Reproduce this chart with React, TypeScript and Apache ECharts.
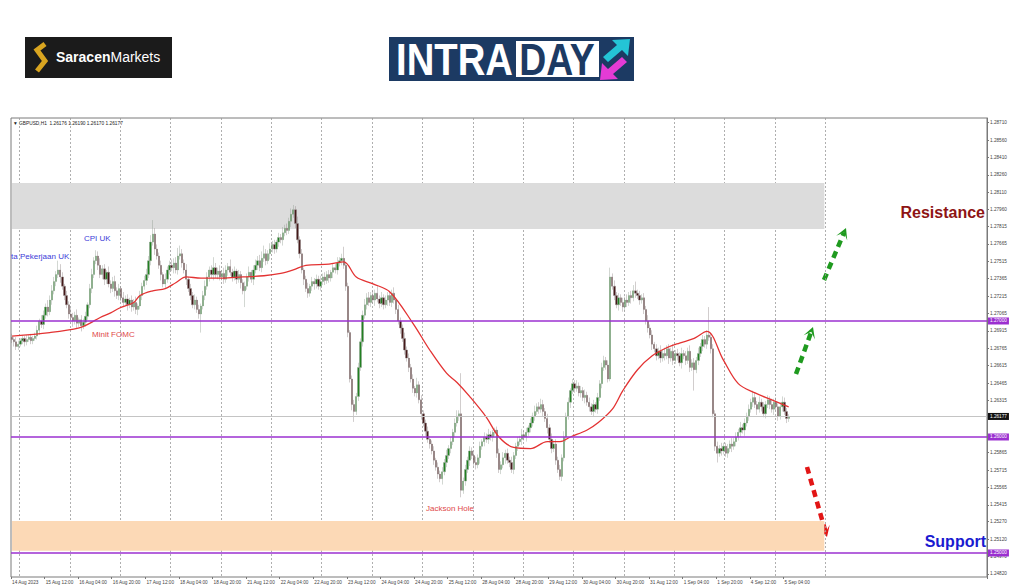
import React, { useEffect, useRef } from "react";
import * as echarts from "echarts";

// ---------- DATA (price in pips above 1.25000) ----------
const BASE = 1.25;
const PIP = 0.0001;
const FIRST_OPEN = 186;

const closes = [
  184,182,178,180,183,185,182,184,186,183,
  185,187,192,200,197,205,212,208,218,226,
  234,240,244,238,230,222,214,206,203,200,
  205,198,201,196,199,204,214,228,240,252,
  256,248,240,245,236,242,232,228,234,226,
  222,228,220,216,219,214,218,212,216,210,
  213,222,230,235,240,252,268,275,262,256,
  248,240,232,236,244,248,246,250,244,256,
  258,250,244,236,228,222,214,218,210,206,
  213,222,230,238,244,240,246,240,243,238,
  241,236,244,247,242,238,243,236,240,233,
  226,230,238,242,236,244,248,252,246,254,
  258,252,258,262,266,262,268,272,270,276,
  280,278,286,292,296,284,270,258,244,236,
  228,224,230,234,232,236,230,234,238,235,
  240,237,242,246,244,250,252,254,248,230,
  190,150,128,122,135,160,182,205,214,220,
  216,222,218,224,219,215,220,214,218,222,
  216,224,218,210,200,194,185,175,168,160,
  150,142,138,145,132,120,112,105,98,94,
  88,80,74,68,64,70,78,84,90,96,
  104,112,118,120,54,62,72,80,88,84,
  78,76,82,92,96,100,98,102,100,104,
  106,86,72,76,82,86,80,78,72,84,
  92,96,98,102,100,104,108,112,118,122,
  126,124,128,122,116,108,98,90,94,80,
  72,66,82,100,118,130,140,146,142,144,
  138,140,134,136,130,126,122,128,124,134,
  146,160,166,162,150,238,230,222,214,220,
  216,212,218,216,222,220,226,224,222,218,
  220,210,200,194,188,180,176,170,174,168,
  172,170,176,168,174,166,172,170,164,172,
  170,166,174,160,164,158,166,172,178,184,
  180,188,186,176,120,92,86,90,88,92,
  86,90,94,92,96,100,104,108,106,112,
  118,124,130,134,128,124,130,126,120,128,
  132,128,124,130,126,118,126,130,122,116,
  117.7,
];

const upperWicks = [
  3,2,4,3,2,3,2,4,2,3,
  2,3,4,2,5,4,3,6,4,5,
  4,3,8,5,4,2,4,3,5,4,
  3,5,2,4,3,4,2,4,5,3,
  5,4,6,3,4,2,5,3,4,5,
  3,4,2,5,3,4,2,4,3,5,
  2,4,3,4,5,4,6,12,5,4,
  3,4,2,5,3,4,5,4,5,7,
  7,4,3,5,2,4,3,5,3,4,
  2,4,5,4,3,4,9,4,3,5,
  3,5,4,3,6,3,4,2,4,3,
  3,4,3,5,2,4,5,4,5,6,
  7,4,3,5,3,4,2,4,3,5,
  3,4,3,5,4,3,6,3,4,2,
  3,5,2,4,3,4,3,5,3,4,
  3,4,2,4,3,5,3,4,10,3,
  3,2,3,4,3,4,3,4,5,4,
  5,3,4,3,6,3,5,3,4,3,
  4,3,5,2,4,3,3,5,3,4,
  3,4,2,6,3,4,3,3,4,3,
  3,4,2,4,3,4,3,5,3,4,
  3,4,5,3,35,3,4,3,4,3,
  3,5,3,4,2,4,3,5,3,2,
  2,3,4,3,5,3,4,3,5,3,
  3,4,3,5,3,4,2,4,3,5,
  3,4,5,4,3,4,3,5,3,4,
  3,4,3,5,3,4,2,4,3,5,
  3,4,3,5,3,4,3,4,2,4,
  3,4,4,3,4,8,3,5,3,4,
  3,4,3,5,3,4,5,8,3,4,
  3,4,3,5,3,4,2,4,3,5,
  3,5,3,4,3,6,3,4,3,5,
  3,4,3,5,3,4,3,5,3,4,
  3,4,24,3,4,3,4,3,5,3,
  3,4,3,5,3,4,3,5,3,4,
  3,4,3,6,4,3,5,3,4,3,
  4,3,5,3,4,3,4,5,4,3,
  2,
];

const lowerWicks = [
  3,4,3,3,2,3,4,3,2,3,
  3,2,3,4,3,4,3,4,3,4,
  3,4,3,5,3,4,3,4,3,5,
  3,4,3,5,3,4,3,3,4,3,
  3,4,3,4,5,4,3,4,3,5,
  3,4,3,4,3,5,3,4,3,4,
  5,3,4,3,4,3,4,3,5,3,
  3,5,3,4,3,4,3,5,3,4,
  3,4,3,5,3,4,3,4,3,4,
  16,3,4,3,4,3,5,3,4,3,
  3,4,3,5,3,4,3,4,3,5,
  3,14,3,4,3,5,3,4,3,4,
  3,4,3,5,3,4,3,4,3,5,
  3,4,3,5,3,4,3,4,3,5,
  3,4,3,4,5,4,3,4,3,4,
  3,4,3,5,3,4,3,4,3,4,
  4,3,5,9,3,4,3,4,3,4,
  3,4,3,5,3,4,3,4,3,5,
  3,4,3,4,3,5,3,4,3,4,
  3,4,3,4,3,5,3,4,3,4,
  3,4,3,4,3,5,3,4,3,4,
  3,4,3,4,6,3,4,3,5,3,
  3,4,3,5,3,4,3,4,3,4,
  3,4,3,4,3,5,3,4,3,4,
  3,4,3,5,3,4,3,4,3,4,
  3,4,3,4,3,5,3,4,3,4,
  3,3,4,3,4,3,5,3,4,3,
  3,4,3,5,3,4,3,4,3,4,
  3,4,3,4,3,2,3,4,3,5,
  3,4,3,4,3,5,3,4,3,4,
  3,4,3,4,3,5,3,4,3,4,
  3,4,3,5,3,4,3,4,3,5,
  3,4,3,4,3,18,3,4,3,4,
  3,4,3,4,3,4,8,3,4,3,
  3,4,3,5,3,4,3,4,3,5,
  3,4,3,4,3,5,3,4,3,4,
  3,4,3,5,3,4,3,4,3,4,
  3,
];

// moving average: [bar index, pips]
const maPoints = [
  [0,187],[18,190],[32,194],[37,198],[42,203],[47,207],[51,211],[58,216],[61,222],[67,226],
  [73,228],[78,233],[83,238],[90,237],[100,237],[110,238],[120,239],[128,241],[134,244],[140,248],
  [151,249],[158,251],[164,238],[172,232],[180,225],[191,198],[199,175],[207,155],[212,147],[218,135],
  [226,117],[232,100],[239,91],[247,90],[255,96],[261,96],[266,100],[274,106],[279,112],[286,124],
  [291,140],[298,158],[305,170],[312,177],[318,181],[325,185],[331,191],[339,166],[346,146],[354,138],
  [362,132],[370,126],
];

const xTickLabels = [
  "14 Aug 2023","15 Aug 12:00","16 Aug 04:00","16 Aug 20:00","17 Aug 12:00","18 Aug 04:00",
  "18 Aug 20:00","21 Aug 12:00","22 Aug 04:00","22 Aug 20:00","23 Aug 12:00","24 Aug 04:00",
  "24 Aug 20:00","25 Aug 12:00","28 Aug 04:00","28 Aug 20:00","29 Aug 12:00","30 Aug 04:00",
  "30 Aug 20:00","31 Aug 12:00","1 Sep 04:00","1 Sep 20:00","4 Sep 12:00","5 Sep 04:00",
];

const yTickValues = [
  1.2482, 1.2497, 1.2512, 1.2527, 1.25415, 1.25565, 1.25715, 1.25865, 1.26315, 1.26465,
  1.26615, 1.26765, 1.26915, 1.27065, 1.27215, 1.27365, 1.27515, 1.27665, 1.27815, 1.2796,
  1.2811, 1.2826, 1.2841, 1.2856, 1.2871,
];

const levelLines = [1.27, 1.26, 1.25];
const lastPrice = 1.26177;
const resistanceZone = [1.27793, 1.2819];
const supportZone = [1.2502, 1.25276];
const Y_MIN = 1.24793;
const Y_MAX = 1.2875;

const SLOTS = 465;
const LABEL_STEP = 16;
const DAY_FIRST = 4;
const DAY_STEP = 24;
const LAST_GRID = 388;
const ZONE_END = 387;

// ---------- helpers ----------
const toPrice = (v: number) => +(BASE + v * PIP).toFixed(5);

function buildCandles() {
  const out: number[][] = [];
  for (let i = 0; i < closes.length; i++) {
    const o = i === 0 ? FIRST_OPEN : closes[i - 1];
    const c = closes[i];
    const h = Math.max(o, c) + upperWicks[i];
    const l = Math.min(o, c) - lowerWicks[i];
    out.push([toPrice(o), toPrice(c), toPrice(l), toPrice(h)]);
  }
  return out;
}

function arrow(x1: number, y1: number, x2: number, y2: number, color: string) {
  const dx = x2 - x1, dy = y2 - y1, len = Math.hypot(dx, dy);
  const ux = dx / len, uy = dy / len, nx = -uy, ny = ux;
  const hl = 11, hw = 6, notch = 5;
  const bx = x2 - ux * hl, by = y2 - uy * hl;
  const mx = x2 - ux * notch, my = y2 - uy * notch;
  return [
    { type: "line", shape: { x1, y1, x2: mx, y2: my }, style: { stroke: color, lineWidth: 4.5, lineDash: [7, 5] } },
    {
      type: "polygon",
      shape: { points: [[x2, y2], [bx + nx * hw, by + ny * hw], [mx, my], [bx - nx * hw, by - ny * hw]] },
      style: { fill: color },
    },
  ];
}

const FONT = "Liberation Sans";

export default function App() {
  const ref = useRef<HTMLDivElement>(null);
  useEffect(() => {
    if (!ref.current) return;
    const chart = echarts.init(ref.current, null, { renderer: "svg" });
    const categories = Array.from({ length: SLOTS }, (_, i) => String(i));
    const isLabel = (i: number) => i % LABEL_STEP === 0 && i / LABEL_STEP < xTickLabels.length;
    const isDay = (i: number) => i >= DAY_FIRST && (i - DAY_FIRST) % DAY_STEP === 0 && i <= LAST_GRID;

    const levelData: any[] = levelLines.map((v) => ({
      yAxis: v,
      lineStyle: { color: "#9b30d0", width: 1.6, type: "solid" },
      label: {
        show: true, position: "end", distance: 1, formatter: v.toFixed(5),
        backgroundColor: "#9b30d0", color: "#fff", fontSize: 4.7, padding: [1, 2], fontFamily: FONT,
      },
    }));
    const lastData: any[] = [{
      yAxis: lastPrice,
      lineStyle: { color: "#c4c4c4", width: 1, type: "solid" },
      label: {
        show: true, position: "end", distance: 1, formatter: lastPrice.toFixed(5),
        backgroundColor: "#111", color: "#fff", fontSize: 4.7, padding: [1, 2], fontFamily: FONT,
      },
    }];

    const graphic: any[] = [
      // Saracen logo
      { type: "rect", shape: { x: 25, y: 37, width: 147, height: 41 }, style: { fill: "#1b1b1b" } },
      { type: "polyline", shape: { points: [[45, 44], [37, 50], [45, 61], [37, 71]] }, style: { stroke: "#d9a520", lineWidth: 5, fill: null } },
      {
        type: "text", x: 56, y: 57,
        style: {
          text: "{b|Saracen}{n|Markets}", verticalAlign: "middle",
          rich: {
            b: { fontWeight: "bold", fontSize: 14, fill: "#fff", fontFamily: FONT },
            n: { fontSize: 14, fill: "#fff", fontFamily: FONT },
          },
        },
      },
      // INTRADAY logo
      { type: "rect", shape: { x: 389, y: 37, width: 245, height: 44 }, style: { fill: "#1c3a63" } },
      { type: "text", x: 396, y: 60, scaleX: 0.87, style: { text: "INTRA", fill: "#fff", fontSize: 44, fontWeight: "bold", fontFamily: FONT, verticalAlign: "middle" } },
      { type: "rect", shape: { x: 516, y: 41, width: 83, height: 36 }, style: { fill: "#fff" } },
      { type: "text", x: 557, y: 60, scaleX: 0.85, style: { text: "DAY", fill: "#1c3a63", fontSize: 44, fontWeight: "bold", fontFamily: FONT, align: "center", verticalAlign: "middle" } },
      { type: "polygon", shape: { points: [[630, 39], [628, 56], [622, 50], [608, 62], [603, 57], [617, 45], [612, 40]] }, style: { fill: "#24c4d6" } },
      { type: "polygon", shape: { points: [[600, 80], [602, 63], [608, 69], [622, 57], [627, 62], [613, 74], [618, 79]] }, style: { fill: "#e43bd5" } },
      // header
      { type: "text", x: 13, y: 123, style: { text: "▼ GBPUSD,H1  1.26176 1.26190 1.26170 1.26177", fill: "#222", fontSize: 4.8, fontFamily: FONT, verticalAlign: "middle" } },
      // event labels
      { type: "text", x: 11, y: 256, style: { text: "ta Pekerjaan UK", fill: "#3c3cd8", fontSize: 8, fontFamily: FONT, verticalAlign: "middle" } },
      { type: "text", x: 84, y: 238, style: { text: "CPI UK", fill: "#3c3cd8", fontSize: 8, fontFamily: FONT, verticalAlign: "middle" } },
      { type: "text", x: 92, y: 334, style: { text: "Minit FOMC", fill: "#e04848", fontSize: 8, fontFamily: FONT, verticalAlign: "middle" } },
      { type: "text", x: 426, y: 508, style: { text: "Jackson Hole", fill: "#e04848", fontSize: 8, fontFamily: FONT, verticalAlign: "middle" } },
      { type: "text", x: 985, y: 212, style: { text: "Resistance", fill: "#8e1414", fontSize: 16, fontWeight: "bold", fontFamily: FONT, align: "right", verticalAlign: "middle" } },
      { type: "text", x: 986, y: 541, style: { text: "Support", fill: "#1a1ad0", fontSize: 16, fontWeight: "bold", fontFamily: FONT, align: "right", verticalAlign: "middle" } },
      ...arrow(796, 374, 813, 327, "#1f9a1f"),
      ...arrow(824, 280, 846, 228, "#1f9a1f"),
      ...arrow(807, 467, 827, 537, "#e21515"),
    ];

    chart.setOption({
      animation: false,
      textStyle: { fontFamily: FONT },
      grid: { left: 11, right: 37, top: 118, bottom: 10, show: true, borderColor: "#7a7a7a", borderWidth: 1 },
      xAxis: {
        type: "category",
        data: categories,
        boundaryGap: true,
        axisLine: { show: false },
        axisTick: { show: true, interval: (i: number) => isLabel(i), length: 2, lineStyle: { color: "#777" } },
        axisLabel: {
          interval: (i: number) => isLabel(i),
          formatter: (val: string) => xTickLabels[Number(val) / LABEL_STEP] || "",
          align: "left", fontSize: 4.7, color: "#444", margin: 3, fontFamily: FONT,
        },
        splitLine: { show: true, interval: (i: number) => isDay(i), lineStyle: { color: "#9a9a9a", width: 0.8, type: [2, 2] } },
      },
      yAxis: {
        type: "value",
        position: "right",
        min: Y_MIN,
        max: Y_MAX,
        scale: true,
        axisLine: { show: true, lineStyle: { color: "#7a7a7a" } },
        axisTick: { show: true, length: 2, customValues: yTickValues, lineStyle: { color: "#777" } },
        axisLabel: { customValues: yTickValues, formatter: (v: number) => v.toFixed(5), fontSize: 4.7, color: "#444", margin: 3, fontFamily: FONT },
        splitLine: { show: false },
      },
      series: [
        {
          type: "line",
          data: [],
          z: 1,
          silent: true,
          markArea: {
            silent: true,
            data: [
              [{ xAxis: 0, yAxis: resistanceZone[0], itemStyle: { color: "#dcdcdc" } }, { xAxis: ZONE_END, yAxis: resistanceZone[1] }],
              [{ xAxis: 0, yAxis: supportZone[0], itemStyle: { color: "#fcd9b6" } }, { xAxis: ZONE_END, yAxis: supportZone[1] }],
            ],
          },
        },
        {
          type: "line",
          data: [],
          z: 2,
          markLine: { silent: true, symbol: "none", precision: 5, data: lastData },
        },
        {
          type: "candlestick",
          data: buildCandles(),
          barWidth: 1.8,
          z: 3,
          itemStyle: {
            color: "#228022",
            color0: "#451a1a",
            borderColor: "#8e9a8e",
            borderColor0: "#8a8282",
            borderWidth: 0.4,
          },
        },
        {
          type: "line",
          data: maPoints.map(([i, v]) => [i, toPrice(v)]),
          smooth: 0.35,
          showSymbol: false,
          z: 4,
          lineStyle: { color: "#e33232", width: 1.3 },
        },
        {
          type: "line",
          data: [],
          z: 5,
          markLine: { silent: true, symbol: "none", precision: 5, data: levelData },
        },
      ],
      graphic,
    });
    return () => chart.dispose();
  }, []);
  return <div ref={ref} style={{ position: "absolute", left: 0, top: 0, width: 1024, height: 587 }} />;
}
